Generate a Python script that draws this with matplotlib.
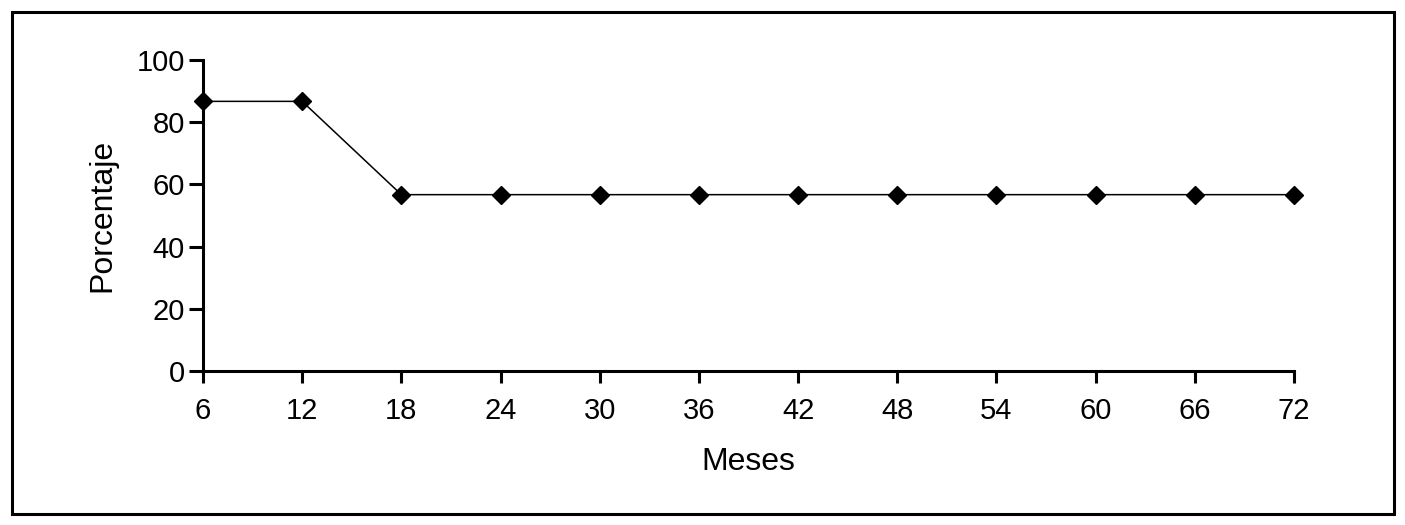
import matplotlib
matplotlib.use("Agg")
import matplotlib.pyplot as plt
from matplotlib.patches import Rectangle

meses = [6, 12, 18, 24, 30, 36, 42, 48, 54, 60, 66, 72]
porcentaje = [86.7, 86.7, 56.7, 56.7, 56.7, 56.7, 56.7, 56.7, 56.7, 56.7, 56.7, 56.7]
yticks = [0, 20, 40, 60, 80, 100]

plt.rcParams['font.family'] = ['Liberation Sans', 'DejaVu Sans']

fig = plt.figure(figsize=(14.05, 5.25), dpi=100)
fig.patches.append(Rectangle((11.5/1405, 11.5/525), 1382/1405, 502/525,
                             transform=fig.transFigure, fill=False,
                             edgecolor='black', linewidth=2.2))
ax = fig.add_axes([203/1405, (525-371)/525, (1294-203)/1405, (371-60)/525])
ax.plot(meses, porcentaje, color='black', linewidth=1.1, marker='D',
        markersize=9, markerfacecolor='black', clip_on=False, zorder=3)
ax.set_xlim(6, 72)
ax.set_ylim(0, 100)
ax.set_xticks(meses)
ax.set_yticks(yticks)
for s in ['top', 'right']:
    ax.spines[s].set_visible(False)
for s in ['left', 'bottom']:
    ax.spines[s].set_linewidth(2.2)
ax.tick_params(axis='x', direction='out', length=8.5, width=2.2, labelsize=21, pad=10)
ax.tick_params(axis='y', direction='out', length=10, width=2.2, labelsize=21, pad=3)
ax.set_xlabel('Meses', fontsize=23, labelpad=16)
ax.set_ylabel('Porcentaje', fontsize=23, labelpad=14)
fig.savefig('out.png', dpi=100)
